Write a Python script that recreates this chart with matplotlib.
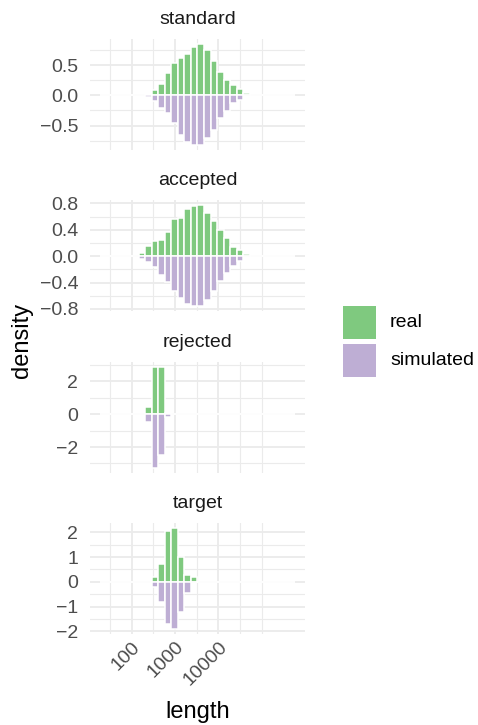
import numpy as np
import matplotlib.pyplot as plt
from matplotlib.patches import Rectangle
from matplotlib.ticker import FixedLocator, FixedFormatter

plt.rcParams['font.family'] = ['Liberation Sans', 'DejaVu Sans']

# histogram bins (log10 of length), shared by all panels
log_lo = 1.263
log_width = 0.1505
n_bins = 30

panels = ["standard", "accepted", "rejected", "target"]
first_bin = {"standard": 7, "accepted": 6, "rejected": 7, "target": 8}

real = {
    "standard": [0.03, 0.096, 0.186, 0.37, 0.53, 0.61, 0.69, 0.80, 0.847, 0.746,
                 0.565, 0.39, 0.254, 0.17, 0.10, 0.035],
    "accepted": [0.05, 0.155, 0.225, 0.24, 0.365, 0.57, 0.58, 0.71, 0.765, 0.77,
                 0.66, 0.54, 0.40, 0.27, 0.144, 0.10, 0.037],
    "rejected": [0.47, 2.89, 2.89, 0.10],
    "target": [0.20, 0.72, 2.05, 2.16, 1.0, 0.27, 0.20],
}
simulated = {
    "standard": [0.036, 0.093, 0.205, 0.285, 0.45, 0.655, 0.775, 0.82, 0.82, 0.70,
                 0.58, 0.38, 0.254, 0.127, 0.07, 0.0],
    "accepted": [0.035, 0.09, 0.17, 0.28, 0.39, 0.525, 0.64, 0.725, 0.76, 0.75,
                 0.66, 0.52, 0.37, 0.25, 0.15, 0.065, 0.0],
    "rejected": [0.45, 3.26, 2.47, 0.14],
    "target": [0.20, 0.82, 1.71, 1.91, 1.23, 0.44, 0.0],
}

y_ticks = {
    "standard": [-0.5, 0.0, 0.5],
    "accepted": [-0.8, -0.4, 0.0, 0.4, 0.8],
    "rejected": [-2, 0, 2],
    "target": [-2, -1, 0, 1, 2],
}
y_labels = {
    "standard": ["\u22120.5", "0.0", "0.5"],
    "accepted": ["\u22120.8", "\u22120.4", "0.0", "0.4", "0.8"],
    "rejected": ["\u22122", "0", "2"],
    "target": ["\u22122", "\u22121", "0", "1", "2"],
}
x_ticks = [100, 1000, 10000]
x_labels = ["100", "1000", "10000"]
legend_labels = ["real", "simulated"]

c_real = "#7FC97F"
c_sim = "#BEAED4"
grid_col = "#EBEBEB"

W, H = 478, 725
fig = plt.figure(figsize=(W / 100, H / 100), dpi=100)

edges_log = log_lo + log_width * np.arange(n_bins + 1)
edges = 10 ** edges_log
span = edges_log[-1] - edges_log[0]
xlim = (10 ** (edges_log[0] - 0.05 * span), 10 ** (edges_log[-1] + 0.05 * span))
# minor breaks halfway between decades, plus one decade past the last label
dec = np.log10(x_ticks)
minor_x = 10 ** np.concatenate([dec - 0.5, [dec[-1] + 0.5, dec[-1] + 1]])


def full(values, start):
    out = np.zeros(n_bins)
    out[start:start + len(values)] = values
    return out


px_left, px_w, px_h = 90, 215, 111
for i, name in enumerate(panels):
    top = 39 + i * 161.4
    ax = fig.add_axes([px_left / W, 1 - (top + px_h) / H, px_w / W, px_h / H])
    r = full(real[name], first_bin[name])
    s = full(simulated[name], first_bin[name])
    ax.bar(edges[:-1], r, width=np.diff(edges), align="edge", color=c_real,
           edgecolor="white", linewidth=1.1, zorder=3)
    ax.bar(edges[:-1], -s, width=np.diff(edges), align="edge", color=c_sim,
           edgecolor="white", linewidth=1.1, zorder=3)

    ax.set_xscale("log")
    ax.set_xlim(*xlim)
    lo, hi = min(0, -s.max()), max(0, r.max())
    pad = 0.05 * (hi - lo)
    ax.set_ylim(lo - pad, hi + pad)

    yt = y_ticks[name]
    step = yt[1] - yt[0]
    minor_y = np.arange(yt[0] - step / 2, yt[-1] + step, step)
    ax.yaxis.set_major_locator(FixedLocator(yt))
    ax.yaxis.set_major_formatter(FixedFormatter(y_labels[name]))
    ax.yaxis.set_minor_locator(FixedLocator(minor_y))
    ax.xaxis.set_major_locator(FixedLocator(x_ticks))
    ax.xaxis.set_minor_locator(FixedLocator(minor_x))
    ax.xaxis.set_minor_formatter(FixedFormatter([]))
    if i == len(panels) - 1:
        ax.xaxis.set_major_formatter(FixedFormatter(x_labels))
        plt.setp(ax.get_xticklabels(), rotation=45, ha="right", va="top",
                 rotation_mode="anchor")
    else:
        ax.xaxis.set_major_formatter(FixedFormatter([""] * len(x_ticks)))

    ax.grid(which="major", color=grid_col, linewidth=1.3, zorder=0)
    ax.grid(which="minor", color=grid_col, linewidth=0.8, zorder=0)
    ax.set_axisbelow(True)
    for sp in ax.spines.values():
        sp.set_visible(False)
    ax.tick_params(which="both", length=0)
    ax.tick_params(axis="y", labelsize=14, labelcolor="#4D4D4D", pad=8.5)
    ax.tick_params(axis="x", labelsize=14, labelcolor="#4D4D4D", pad=3)

    fig.text((px_left + px_w / 2) / W, 1 - (top - 19.5) / H, name,
             ha="center", va="center", fontsize=14, color="#1A1A1A")

fig.text(22 / W, 1 - 340 / H, "density", rotation=90, ha="center", va="center",
         fontsize=17, color="black")
fig.text((px_left + px_w / 2) / W, 1 - 712 / H, "length", ha="center", va="center",
         fontsize=17, color="black")

# legend keys
key, pitch, key_top, key_left = 33, 38, 306, 343
for j, (lab, col) in enumerate(zip(legend_labels, [c_real, c_sim])):
    y0 = key_top + j * pitch
    fig.add_artist(Rectangle((key_left / W, 1 - (y0 + key) / H), key / W, key / H,
                             transform=fig.transFigure, facecolor=col,
                             edgecolor="none"))
    fig.text(390 / W, 1 - (y0 + key / 2) / H, lab, ha="left", va="center",
             fontsize=14, color="black")

fig.savefig("out.png", dpi=100)
